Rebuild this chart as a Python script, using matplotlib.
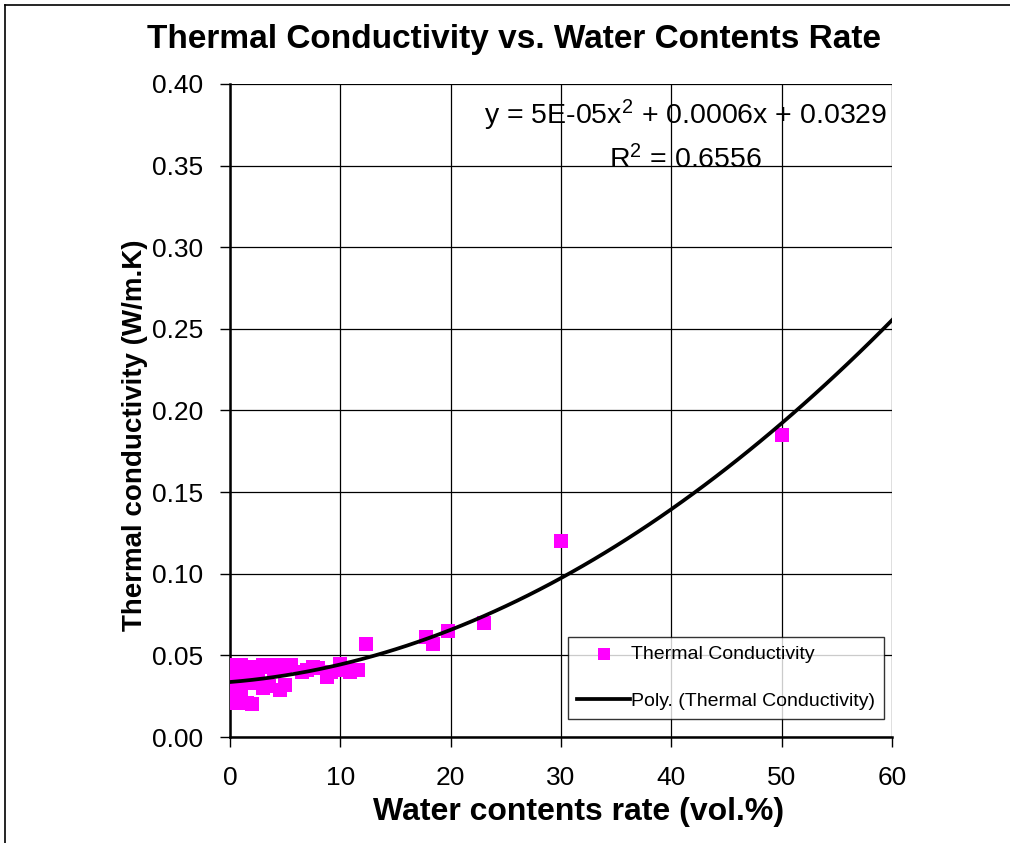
import numpy as np
import matplotlib
matplotlib.use('Agg')
import matplotlib.pyplot as plt
from matplotlib.lines import Line2D

plt.rcParams['font.family'] = ['Liberation Sans', 'DejaVu Sans']

# measured points (water content vol.%, thermal conductivity W/m.K)
water = [0.0, 0.0, 0.0, 0.0, 0.0, 0.0, 0.0,
         0.5, 0.5, 0.5, 0.5, 0.5, 0.5,
         1.0, 1.0, 1.0, 1.0, 1.0, 1.0,
         1.5, 1.5, 1.5,
         2.0, 2.0, 2.0,
         2.5, 2.5,
         3.0, 3.0,
         3.5, 3.5,
         4.0, 4.0,
         4.5, 4.5,
         5.0, 5.0,
         5.5, 6.5, 7.0, 7.5, 8.0, 8.8, 9.2,
         10.0, 10.3, 10.9, 11.6,
         12.3, 17.8, 18.4, 19.8, 23.0, 30.0, 50.0]
conductivity = [0.022, 0.026, 0.030, 0.034, 0.038, 0.042, 0.044,
                0.021, 0.025, 0.029, 0.033, 0.037, 0.041,
                0.023, 0.028, 0.032, 0.036, 0.040, 0.044,
                0.021, 0.035, 0.043,
                0.020, 0.033, 0.040,
                0.038, 0.043,
                0.030, 0.044,
                0.031, 0.043,
                0.041, 0.044,
                0.029, 0.044,
                0.032, 0.042,
                0.044, 0.040, 0.041, 0.043, 0.042, 0.037, 0.040,
                0.045, 0.041, 0.040, 0.041,
                0.057, 0.061, 0.057, 0.065, 0.070, 0.120, 0.185]

# polynomial trendline coefficients (as drawn)
poly_a = 5.24e-05
poly_b = 0.00055
poly_c = 0.0337

eq_line1 = 'y = 5E-05x$^{2}$ + 0.0006x + 0.0329'
eq_line2 = 'R$^{2}$ = 0.6556'

plt.rcParams['mathtext.fontset'] = 'custom'
plt.rcParams['mathtext.rm'] = 'Liberation Sans'
plt.rcParams['mathtext.default'] = 'rm'

fig = plt.figure(figsize=(10.1, 8.43), dpi=100)
ax = fig.add_axes([0.2277, 0.1257, 0.6555, 0.7747])

ax.grid(True, color='black', linewidth=0.9, zorder=0)
ax.set_axisbelow(True)

ax.scatter(water, conductivity, marker='s', s=88, color='#FF00FF',
           linewidths=0, zorder=3, label='Thermal Conductivity')

xs = np.linspace(0, 60, 61)
ax.plot(xs, poly_a * xs**2 + poly_b * xs + poly_c, color='black',
        linewidth=2.7, zorder=4, label='Poly. (Thermal Conductivity)')

ax.set_xlim(0, 60)
ax.set_ylim(0, 0.40)
ax.set_xticks(np.arange(0, 61, 10))
ax.set_yticks(np.arange(0, 0.401, 0.05))
ax.yaxis.set_major_formatter(matplotlib.ticker.FormatStrFormatter('%.2f'))
ax.tick_params(direction='out', length=7, width=1, labelsize=19, pad=12)
ax.tick_params(axis='x', pad=14)

for side in ['top', 'right']:
    ax.spines[side].set_visible(False)
for side in ['left', 'bottom']:
    ax.spines[side].set_linewidth(1.8)

ax.text(0.6885, 0.952, eq_line1, transform=ax.transAxes, ha='center',
        va='center', fontsize=20.5, zorder=5)
ax.text(0.6885, 0.884, eq_line2, transform=ax.transAxes, ha='center',
        va='center', fontsize=20.5, zorder=5)

leg = ax.legend(loc='lower left', bbox_to_anchor=(0.511, 0.028, 0.477, 0.132),
                mode='expand', fontsize=14, frameon=True, fancybox=False,
                borderaxespad=0, handlelength=2.7, handletextpad=0.05,
                labelspacing=1.47, borderpad=0.47, markerscale=0.95)
leg.get_frame().set_edgecolor('black')
leg.get_frame().set_linewidth(1.0)
leg.set_zorder(6)

fig.text(0.509, 0.953, 'Thermal Conductivity vs. Water Contents Rate',
         ha='center', va='center', fontsize=24, fontweight='bold')
fig.text(0.573, 0.037, 'Water contents rate (vol.%)', ha='center',
         va='center', fontsize=23, fontweight='bold')
fig.text(0.134, 0.484, 'Thermal conductivity (W/m.K)', ha='center',
         va='center', fontsize=20, fontweight='bold', rotation=90)

# chart border (left and top edges visible)
fig.add_artist(Line2D([0.0045, 0.0045], [0, 0.994], color='black', linewidth=1.2))
fig.add_artist(Line2D([0.0045, 1.0], [0.994, 0.994], color='black', linewidth=1.2))

fig.savefig('out.png', dpi=100)
